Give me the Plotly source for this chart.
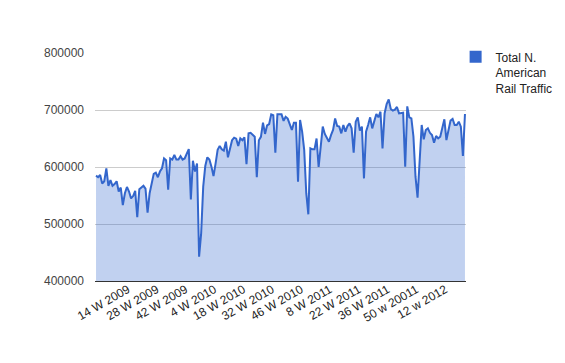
import plotly.graph_objects as go

# Weekly categories: 1 W 2009 ... 24 W 2012
categories = []
for year in [2009, 2010, 2011, 2012]:
    for wk in range(1, 53):
        categories.append(f"{wk} W {year}")
categories = categories[:180]

rail_traffic = [
    584800, 582000, 586000, 571000, 575000, 597700, 566700, 577000, 567000, 570000,
    575000, 557000, 564000, 533000, 554000, 565000, 557000, 545000, 549000, 558000,
    512000, 561000, 564000, 567000, 562000, 520000, 554000, 572000, 588000, 590000,
    582000, 592000, 597700, 615000, 612000, 560000, 615000, 613000, 621000, 613000,
    613000, 619000, 613000, 615000, 622000, 631500, 543000, 611000, 592000, 606000,
    442700, 483600, 565500, 601700, 617000, 613000, 600600, 584000, 606000, 630000,
    637000, 631000, 628600, 644400, 617000, 631000, 647000, 651500, 649700, 637000,
    650300, 647000, 652000, 605000, 659000, 660000, 656000, 653000, 582000, 647000,
    653000, 677800, 658000, 673000, 675400, 692400, 691000, 625000, 692400,
    693000, 692400, 681000, 688000, 685000, 673700, 665000, 677800, 677800, 574000,
    682500, 662000, 630000, 554000, 517000, 632700, 631000, 631000, 650000, 600000,
    637000, 670800, 658000, 650000, 644400, 656000, 665000, 685000, 671900, 670800,
    659000, 673700, 662000, 671900, 676600, 667800, 625000, 679500, 687100, 664000,
    670800, 580000, 662000, 673700, 687100, 667800, 679500, 693000, 687100, 697000,
    632700, 694000, 710500, 718700, 701800, 698800, 700600, 705300, 694000, 695300,
    695300, 600600, 706400, 687100, 685400, 653200, 583000, 546200, 618000, 673700,
    648500, 665000, 667800, 660000, 656000, 642700, 654400, 650300, 653200, 667800,
    683600, 647300, 667800, 681300, 684200, 673700, 673700, 679500, 670800, 619300,
    693000,
]

tick_labels = ["14 W 2009", "28 W 2009", "42 W 2009", "4 W 2010", "18 W 2010",
               "32 W 2010", "46 W 2010", "8 W 2011", "22 W 2011", "36 W 2011",
               "50 w 20011", "12 w 2012"]
tick_positions = [categories[i] for i in range(13, len(categories), 14)][:len(tick_labels)]

series_name = "Total N.<br>American<br>Rail Traffic"
y_ticks = [400000, 500000, 600000, 700000, 800000]

fig = go.Figure()
fig.add_trace(go.Scatter(
    x=categories, y=rail_traffic, mode="lines",
    line=dict(color="#3366cc", width=2),
    fill="tozeroy", fillcolor="rgba(51,102,204,0.3)",
    showlegend=False, hoverinfo="x+y",
))
fig.add_trace(go.Scatter(
    x=[None], y=[None], mode="markers",
    marker=dict(symbol="square", size=12, color="#3366cc"),
    name=series_name, showlegend=True,
))

# page body has an 8px margin, so the figure is sized to the visible area
fig.update_layout(
    width=557, height=355,
    margin=dict(l=87, r=99, t=45, b=82, autoexpand=False),
    paper_bgcolor="white", plot_bgcolor="white",
    font=dict(family="Arial, Liberation Sans, sans-serif", size=12, color="#222"),
    legend=dict(x=0.972, y=1.046, xanchor="left", yanchor="top",
                valign="top", font=dict(size=12, color="#222"),
                itemwidth=30, tracegroupgap=0, bgcolor="rgba(0,0,0,0)"),
)
fig.update_xaxes(
    type="category", categoryorder="array", categoryarray=categories,
    range=[-0.5, len(categories) - 0.5], automargin=False,
    tickmode="array", tickvals=tick_positions, ticktext=tick_labels,
    tickangle=-30, tickfont=dict(size=12, color="#222"),
    showgrid=False, zeroline=False,
    showline=True, linecolor="#333", linewidth=1, ticks="",
    ticklabelshift=5,
)
try:
    fig.update_xaxes(ticklabelstandoff=-4)
except Exception:
    pass
fig.update_yaxes(
    range=[400000, 800000], tickmode="array", tickvals=y_ticks, automargin=False,
    ticktext=[str(v) for v in y_ticks],
    tickfont=dict(size=12, color="#444"),
    showgrid=True, gridcolor="#cccccc", gridwidth=1,
    zeroline=False, showline=False, ticks="", ticklabelstandoff=10,
)

fig.write_html("out.html")
